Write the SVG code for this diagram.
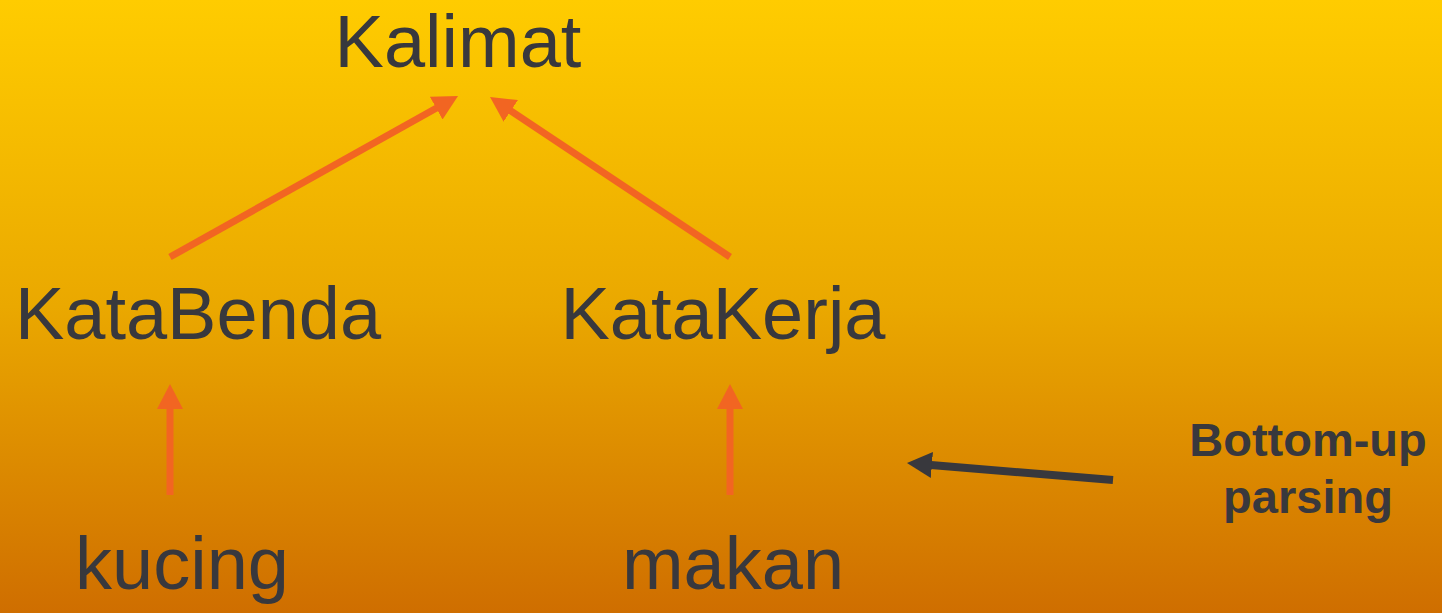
<svg xmlns="http://www.w3.org/2000/svg" width="1442" height="613" viewBox="0 0 1442 613">
<defs>
<linearGradient id="bg" x1="0" y1="0" x2="0" y2="1">
<stop offset="0" stop-color="#FFCC00"/>
<stop offset="0.5" stop-color="#EAA800"/>
<stop offset="1" stop-color="#CF6E00"/>
</linearGradient>
<marker id="ho" markerUnits="userSpaceOnUse" markerWidth="26" markerHeight="26" viewBox="0 0 26 26" refX="4" refY="13" orient="auto">
<path d="M0,0 L25,13 L0,26 z" fill="#F26522"/>
</marker>
<marker id="hd" markerUnits="userSpaceOnUse" markerWidth="26" markerHeight="26" viewBox="0 0 26 26" refX="4" refY="13" orient="auto">
<path d="M0,0 L25,13 L0,26 z" fill="#38383D"/>
</marker>
<style>
.t{font-family:"Liberation Sans",Arial,sans-serif;font-size:74px;fill:#38383D;text-anchor:middle}
.b{font-family:"Liberation Sans",Arial,sans-serif;font-size:47px;font-weight:bold;fill:#38383D;text-anchor:middle}
.o{stroke:#F26522;stroke-width:7;fill:none;marker-end:url(#ho)}
.d{stroke:#38383D;stroke-width:8;fill:none;marker-end:url(#hd)}
</style>
</defs>
<rect width="1442" height="613" fill="url(#bg)"/>
<g id="connectors">
<line class="o" x1="170" y1="257" x2="439.7" y2="106.2"/>
<line class="o" x1="730" y1="257" x2="507.5" y2="108.6"/>
<line class="o" x1="170" y1="495" x2="170" y2="405"/>
<line class="o" x1="730" y1="495" x2="730" y2="405"/>
<line class="d" x1="1113" y1="480" x2="927.9" y2="464.7"/>
</g>
<g id="kalimat"><text class="t" x="458" y="67">Kalimat</text></g>
<g id="katabenda"><text class="t" x="198" y="339">KataBenda</text></g>
<g id="katakerja"><text class="t" x="723" y="339">KataKerja</text></g>
<g id="kucing"><text class="t" x="182" y="589">kucing</text></g>
<g id="makan"><text class="t" x="733" y="589">makan</text></g>
<g id="label"><text class="b" x="1308" y="456">Bottom-up</text><text class="b" x="1308" y="513">parsing</text></g>
</svg>
